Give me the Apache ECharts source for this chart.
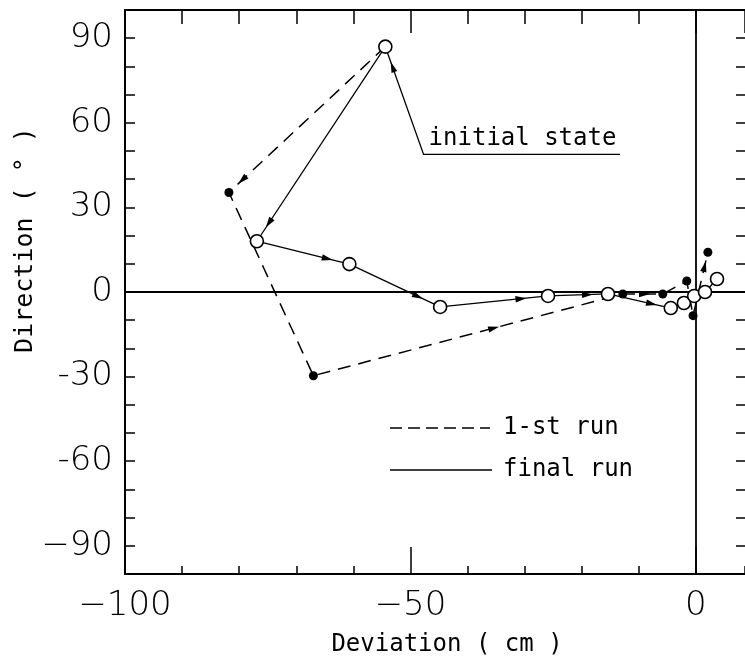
<!DOCTYPE html>
<html>
<head>
<meta charset="utf-8">
<script src="https://cdn.jsdelivr.net/npm/echarts@6/dist/echarts.min.js"></script>
<style>
  html, body { margin: 0; padding: 0; background: #fff; }
  #main { width: 745px; height: 663px; }
</style>
</head>
<body>
<div id="main"></div>
<script>
// data: deviation (cm) and direction (deg)
var firstRunX = [-54.4, -81.8, -67.0, -12.8, -5.8, -1.6, -0.5, 2.1];
var firstRunY = [87, 35.3, -29.7, -0.7, -0.7, 3.9, -8.4, 14.1];
var finalRunX = [-54.4, -76.9, -60.7, -44.8, -25.9, -15.4, -4.4, -2.1, -0.3, 1.6, 3.7];
var finalRunY = [87, 18, 9.9, -5.3, -1.4, -0.7, -5.7, -3.9, -1.4, 0, 4.6];

// arrow heads: [segment index, place along the segment]
var firstRunArrows = [[0, 0.94], [2, 0.6], [3, 0.68], [6, 0.86]];
var finalRunArrows = [[0, 0.93], [1, 0.82], [2, 0.81], [3, 0.8], [4, 0.75], [5, 0.78]];

// the picture is cut a little before x = 10, so the visible range ends near 8.6
var xTicks = [-100, 8.6];
var yTicks = [-100, 100];
var yLabels = [90, 60, 30, 0, -30, -60, -90];

// "initial state" note: corner of leader line and end of underline (data units)
var noteCorner = [-47.7, 48.8];
var noteEndX = -13.3;

var myChart = echarts.init(document.getElementById('main'));

function zip(xs, ys) {
    return xs.map(function (x, i) { return [x, ys[i]]; });
}

function arrowData(xs, ys, list) {
    return list.map(function (a) {
        var i = a[0];
        return [xs[i], ys[i], xs[i + 1], ys[i + 1], a[1]];
    });
}

function arrowHead(tip, dx, dy, len, w) {
    var d = Math.sqrt(dx * dx + dy * dy) || 1;
    var ux = dx / d, uy = dy / d;
    var bx = tip[0] - ux * len, by = tip[1] - uy * len;
    return {
        type: 'polygon',
        shape: { points: [tip, [bx - uy * w, by + ux * w], [bx + uy * w, by - ux * w]] },
        style: { fill: '#000' }
    };
}

function renderArrow(params, api) {
    var p1 = api.coord([api.value(0), api.value(1)]);
    var p2 = api.coord([api.value(2), api.value(3)]);
    var t = api.value(4);
    var tip = [p1[0] + (p2[0] - p1[0]) * t, p1[1] + (p2[1] - p1[1]) * t];
    return arrowHead(tip, p2[0] - p1[0], p2[1] - p1[1], 11, 3.2);
}

function renderNote(params, api) {
    var p = api.coord([api.value(0), api.value(1)]);
    var c = api.coord([api.value(2), api.value(3)]);
    var e = api.coord([api.value(4), api.value(3)]);
    var t = 0.86;
    var tip = [c[0] + (p[0] - c[0]) * t, c[1] + (p[1] - c[1]) * t];
    return {
        type: 'group',
        children: [
            {
                type: 'polyline',
                shape: { points: [e, c, p] },
                style: { stroke: '#000', lineWidth: 1.3, fill: null }
            },
            arrowHead(tip, p[0] - c[0], p[1] - c[1], 11, 3),
            {
                type: 'text',
                style: {
                    text: 'initial state',
                    x: c[0] + 5,
                    y: c[1] - 4,
                    textAlign: 'left',
                    textVerticalAlign: 'bottom',
                    font: '24px "DejaVu Sans Mono", monospace',
                    fill: '#000'
                }
            }
        ]
    };
}

var labelFont = { fontFamily: '"DejaVu Sans", sans-serif', fontWeight: 200, fontSize: 34, color: '#000' };
var line = { color: '#000', width: 2 };
var tick = { color: '#000', width: 1.5 };

function minus(v) {
    return v < 0 ? '\u2212' + (-v) : String(v);
}

var option = {
    animation: false,
    backgroundColor: '#fff',
    grid: { left: 125, top: 10, right: 0, bottom: 89 },
    xAxis: [
        {
            type: 'value', min: xTicks[0], max: xTicks[1], interval: 10, position: 'bottom',
            axisLine: { show: true, onZero: false, lineStyle: line },
            axisTick: { inside: true, length: 8, lineStyle: tick },
            axisLabel: { show: false }, splitLine: { show: false }
        },
        {
            type: 'value', min: xTicks[0], max: xTicks[1], interval: 50, position: 'bottom',
            axisLine: { show: false, onZero: false },
            axisTick: { inside: true, length: 27, lineStyle: tick },
            axisLabel: Object.assign({ margin: 15, showMaxLabel: false, formatter: minus }, labelFont),
            splitLine: { show: false }
        },
        {
            type: 'value', min: xTicks[0], max: xTicks[1], interval: 10, position: 'top',
            axisLine: { show: true, onZero: false, lineStyle: line },
            axisTick: { inside: true, length: 14, lineStyle: tick },
            axisLabel: { show: false }, splitLine: { show: false }
        },
        {
            type: 'value', min: xTicks[0], max: xTicks[1], interval: 50, position: 'top',
            axisLine: { show: false, onZero: false },
            axisTick: { inside: true, length: 23, lineStyle: tick },
            axisLabel: { show: false }, splitLine: { show: false }
        }
    ],
    yAxis: [
        {
            type: 'value', min: yTicks[0], max: yTicks[1], interval: 10, position: 'left',
            axisLine: { show: true, onZero: false, lineStyle: line },
            axisTick: { inside: true, length: 10, lineStyle: tick },
            axisLabel: Object.assign({
                margin: 12,
                formatter: function (v) {
                    if (yLabels.indexOf(v) < 0) return '';
                    return v === -90 ? '\u221290' : String(v);
                }
            }, labelFont),
            splitLine: { show: false }
        },
        {
            type: 'value', min: yTicks[0], max: yTicks[1], interval: 10, position: 'right',
            axisLine: { show: false, onZero: false },
            axisTick: { inside: true, length: 9, lineStyle: tick },
            axisLabel: { show: false }, splitLine: { show: false }
        }
    ],
    series: [
        {
            name: '1-st run',
            type: 'line',
            data: zip(firstRunX, firstRunY).map(function (d, i) {
                return i === 0 ? { value: d, symbol: 'none' } : d;
            }),
            symbol: 'circle',
            symbolSize: 9,
            itemStyle: { color: '#000' },
            lineStyle: { color: '#000', width: 1.5, type: [13, 8] },
            markLine: {
                silent: true,
                symbol: ['none', 'none'],
                label: { show: false },
                lineStyle: { color: '#000', type: 'solid', width: 1.8 },
                data: [{ xAxis: 0 }, { yAxis: 0 }]
            },
            z: 3
        },
        {
            name: 'final run',
            type: 'line',
            data: zip(finalRunX, finalRunY),
            symbol: 'circle',
            symbolSize: 13,
            itemStyle: { color: '#fff', borderColor: '#000', borderWidth: 1.6 },
            lineStyle: { color: '#000', width: 1.3 },
            z: 5
        },
        {
            type: 'custom',
            renderItem: renderArrow,
            data: arrowData(firstRunX, firstRunY, firstRunArrows).concat(
                arrowData(finalRunX, finalRunY, finalRunArrows)),
            encode: { x: [0, 2], y: [1, 3] },
            silent: true,
            z: 4
        },
        {
            type: 'custom',
            renderItem: renderNote,
            data: [[finalRunX[0], finalRunY[0], noteCorner[0], noteCorner[1], noteEndX]],
            encode: { x: [0, 2, 4], y: [1, 3] },
            silent: true,
            z: 4
        }
    ],
    graphic: [
        {
            type: 'text', x: 25, y: 240, rotation: Math.PI / 2,
            style: {
                text: 'Direction ( \u00b0 )', textAlign: 'center', textVerticalAlign: 'middle',
                font: '25px "DejaVu Sans Mono", monospace', fill: '#000'
            }
        },
        {
            type: 'text', x: 447, y: 645,
            style: {
                text: 'Deviation ( cm )', textAlign: 'center', textVerticalAlign: 'middle',
                font: '24px "DejaVu Sans Mono", monospace', fill: '#000'
            }
        },
        {
            type: 'line', shape: { x1: 390, y1: 428, x2: 490, y2: 428 },
            style: { stroke: '#000', lineWidth: 1.5, lineDash: [12, 6] }
        },
        {
            type: 'text', x: 503, y: 428,
            style: {
                text: '1-st run', textAlign: 'left', textVerticalAlign: 'middle',
                font: '24px "DejaVu Sans Mono", monospace', fill: '#000'
            }
        },
        {
            type: 'line', shape: { x1: 390, y1: 470, x2: 492, y2: 470 },
            style: { stroke: '#000', lineWidth: 1.5 }
        },
        {
            type: 'text', x: 503, y: 470,
            style: {
                text: 'final run', textAlign: 'left', textVerticalAlign: 'middle',
                font: '24px "DejaVu Sans Mono", monospace', fill: '#000'
            }
        }
    ]
};

myChart.setOption(option);
</script>
</body>
</html>
